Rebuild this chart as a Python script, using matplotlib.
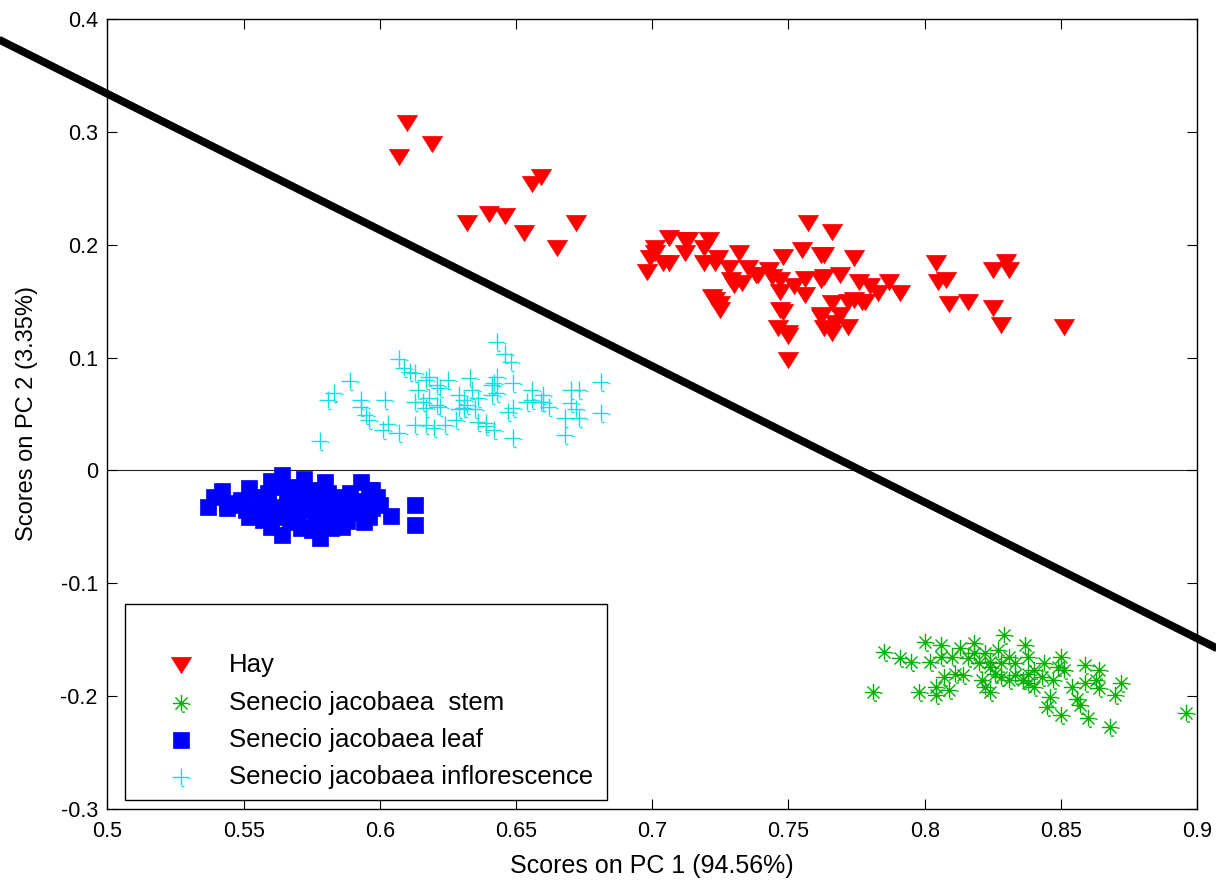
import matplotlib
matplotlib.use("Agg")
import matplotlib.pyplot as plt
from matplotlib.path import Path
from matplotlib.patches import Rectangle
from matplotlib.lines import Line2D

plt.rcParams['font.family'] = ['Liberation Sans', 'DejaVu Sans']

# PCA scores per sample group (PC1, PC2)
hay_x = [0.610, 0.619, 0.607, 0.659, 0.656, 0.640, 0.646, 0.632, 0.653, 0.672, 0.665,
         0.706, 0.712, 0.721, 0.701, 0.712, 0.719, 0.699, 0.704, 0.719, 0.724,
         0.732, 0.698, 0.728, 0.735, 0.743, 0.748, 0.755, 0.762, 0.738, 0.747,
         0.729, 0.733, 0.752, 0.756, 0.756, 0.722, 0.725, 0.725, 0.747, 0.746,
         0.750, 0.750, 0.762, 0.762, 0.763,
         0.701, 0.706, 0.713, 0.723, 0.739, 0.744, 0.757, 0.747, 0.730, 0.723,
         0.748, 0.750, 0.767, 0.774, 0.778, 0.762,
         0.766, 0.763, 0.774, 0.769, 0.763, 0.776, 0.780, 0.787, 0.783, 0.791,
         0.777, 0.766, 0.772, 0.769, 0.772, 0.766,
         0.804, 0.805, 0.808, 0.809, 0.816, 0.825, 0.830, 0.831, 0.825, 0.828, 0.851]
hay_y = [0.308, 0.289, 0.278, 0.260, 0.254, 0.227, 0.225, 0.219, 0.210, 0.219, 0.197,
         0.206, 0.204, 0.204, 0.197, 0.193, 0.197, 0.188, 0.184, 0.184, 0.188,
         0.193, 0.176, 0.179, 0.179, 0.178, 0.189, 0.195, 0.191, 0.173, 0.169,
         0.169, 0.166, 0.163, 0.170, 0.155, 0.154, 0.147, 0.142, 0.142, 0.126,
         0.122, 0.098, 0.169, 0.138, 0.126,
         0.193, 0.184, 0.204, 0.184, 0.173, 0.171, 0.219, 0.158, 0.164, 0.151,
         0.140, 0.119, 0.131, 0.151, 0.149, 0.136,
         0.211, 0.191, 0.188, 0.173, 0.171, 0.167, 0.163, 0.167, 0.157, 0.157,
         0.149, 0.148, 0.149, 0.138, 0.127, 0.122,
         0.184, 0.167, 0.169, 0.147, 0.149, 0.178, 0.185, 0.178, 0.144, 0.129, 0.127]

stem_x = [0.785, 0.791, 0.795, 0.781, 0.800, 0.806, 0.802, 0.798, 0.804, 0.809,
          0.807, 0.813, 0.818, 0.811, 0.814, 0.818, 0.822, 0.824, 0.821, 0.824,
          0.829, 0.831, 0.833, 0.837, 0.838, 0.828, 0.836, 0.840, 0.844, 0.847,
          0.846, 0.845, 0.850, 0.850, 0.851, 0.854, 0.856, 0.857, 0.860, 0.859,
          0.859, 0.864, 0.863, 0.864, 0.872, 0.870, 0.868, 0.896, 0.840, 0.843,
          0.833, 0.826, 0.820, 0.816, 0.806, 0.810, 0.804, 0.822, 0.831, 0.838,
          0.849, 0.838, 0.828, 0.824, 0.827]
stem_y = [-0.161, -0.166, -0.170, -0.196, -0.152, -0.155, -0.170, -0.196, -0.199, -0.195,
          -0.183, -0.157, -0.153, -0.180, -0.181, -0.162, -0.162, -0.174, -0.186, -0.196,
          -0.146, -0.165, -0.171, -0.155, -0.165, -0.183, -0.186, -0.192, -0.171, -0.186,
          -0.201, -0.210, -0.217, -0.165, -0.177, -0.192, -0.203, -0.208, -0.219, -0.172,
          -0.188, -0.177, -0.186, -0.193, -0.188, -0.199, -0.227, -0.215, -0.177, -0.183,
          -0.181, -0.180, -0.171, -0.166, -0.165, -0.165, -0.192, -0.192, -0.186, -0.188,
          -0.174, -0.180, -0.171, -0.170, -0.159]

leaf_x = [0.537, 0.539, 0.542, 0.544, 0.544, 0.552, 0.551, 0.552, 0.560, 0.564,
          0.560, 0.564, 0.567, 0.570, 0.571, 0.577, 0.578, 0.581, 0.581, 0.586,
          0.586, 0.589, 0.593, 0.597, 0.594, 0.599, 0.604, 0.613, 0.613, 0.564,
          0.559, 0.574, 0.578, 0.582, 0.559, 0.564, 0.570, 0.576, 0.567, 0.561,
          0.590, 0.593, 0.597, 0.596, 0.555, 0.549, 0.557, 0.575, 0.582, 0.587, 0.596,
          0.566, 0.572, 0.575, 0.585, 0.579, 0.570, 0.563, 0.556, 0.548, 0.588,
          0.592, 0.600, 0.580, 0.572, 0.568, 0.584, 0.590]
leaf_y = [-0.032, -0.024, -0.018, -0.033, -0.029, -0.016, -0.035, -0.041, -0.009, -0.004,
          -0.050, -0.057, -0.015, -0.017, -0.051, -0.017, -0.060, -0.020, -0.047, -0.032,
          -0.050, -0.020, -0.010, -0.017, -0.046, -0.024, -0.040, -0.031, -0.048, -0.032,
          -0.031, -0.035, -0.035, -0.032, -0.020, -0.015, -0.029, -0.041, -0.046, -0.041,
          -0.035, -0.029, -0.033, -0.041, -0.024, -0.026, -0.044, -0.053, -0.051, -0.041, -0.017,
          -0.025, -0.022, -0.028, -0.024, -0.027, -0.040, -0.040, -0.030, -0.031, -0.045,
          -0.038, -0.031, -0.010, -0.008, -0.034, -0.038, -0.027]

infl_x = [0.607, 0.589, 0.583, 0.581, 0.593, 0.602, 0.578, 0.609, 0.611, 0.613,
          0.617, 0.618, 0.621, 0.622, 0.625, 0.614, 0.618, 0.616, 0.613, 0.617,
          0.621, 0.622, 0.595, 0.593, 0.596, 0.603, 0.601, 0.607, 0.613, 0.617,
          0.620, 0.624, 0.628, 0.629, 0.631, 0.629, 0.631, 0.643, 0.646, 0.648,
          0.633, 0.643, 0.642, 0.641, 0.649, 0.634, 0.641, 0.643, 0.632, 0.631,
          0.635, 0.649, 0.647, 0.656, 0.660, 0.660, 0.659, 0.656, 0.654, 0.662,
          0.636, 0.639, 0.642, 0.649, 0.670, 0.673, 0.681, 0.670, 0.672, 0.668,
          0.673, 0.668, 0.681, 0.639, 0.636]
infl_y = [0.099, 0.079, 0.069, 0.062, 0.062, 0.062, 0.026, 0.091, 0.087, 0.086,
          0.080, 0.083, 0.076, 0.073, 0.080, 0.071, 0.064, 0.061, 0.061, 0.055,
          0.058, 0.056, 0.049, 0.056, 0.045, 0.041, 0.036, 0.033, 0.040, 0.040,
          0.038, 0.040, 0.045, 0.067, 0.062, 0.054, 0.055, 0.114, 0.103, 0.096,
          0.082, 0.083, 0.077, 0.076, 0.077, 0.071, 0.067, 0.069, 0.058, 0.055,
          0.054, 0.055, 0.052, 0.071, 0.067, 0.061, 0.061, 0.062, 0.061, 0.056,
          0.043, 0.042, 0.036, 0.029, 0.071, 0.071, 0.078, 0.060, 0.054, 0.046,
          0.046, 0.031, 0.051, 0.039, 0.064]

# discriminant line (runs past the axes box)
line_x = [0.44, 0.93]
line_y = [0.406, -0.185]

labels = ['Hay', 'Senecio jacobaea  stem', 'Senecio jacobaea leaf',
          'Senecio jacobaea inflorescence']
x_ticks = [0.5, 0.55, 0.6, 0.65, 0.7, 0.75, 0.8, 0.85, 0.9]
y_ticks = [-0.3, -0.2, -0.1, 0, 0.1, 0.2, 0.3, 0.4]

M, L = Path.MOVETO, Path.LINETO

# triangle pointing down, a bit wider than tall
tri = Path([(-1, 0.8), (1, 0.8), (0, -0.8), (-1, 0.8)], [M, L, L, Path.CLOSEPOLY])

# plus / asterisk with the little offset stubs of the exported bitmap
plus = Path([(-1, 0), (0.8, 0), (0, 1), (0, -0.9),
             (0.8, -0.08), (1.05, -0.08), (0.05, -1.0), (0.4, -1.0)],
            [M, L] * 4)
star = Path([(-1, 0), (0.8, 0), (0, 1), (0, -0.9),
             (-0.7, 0.7), (0.7, -0.7), (-0.7, -0.7), (0.7, 0.7),
             (0.8, -0.08), (1.05, -0.08), (0.05, -1.0), (0.4, -1.0)],
            [M, L] * 6)

RED, GREEN, BLUE, CYAN = '#ff0000', '#00b000', '#0000ff', '#10e0e6'

styles = [
    dict(marker=tri, ms=14.5, mfc=RED, mec=RED, mew=0.5),
    dict(marker=star, ms=13, mfc='none', mec=GREEN, mew=1.0),
    dict(marker='s', ms=12, mfc=BLUE, mec=BLUE, mew=0.5),
    dict(marker=plus, ms=13, mfc='none', mec=CYAN, mew=1.0),
]

fig = plt.figure(figsize=(12.16, 8.82), dpi=100)
ax = fig.add_axes([0.0884, 0.0828, 0.896, 0.8957])

groups = [(hay_x, hay_y), (stem_x, stem_y), (leaf_x, leaf_y), (infl_x, infl_y)]
for (gx, gy), st in zip(groups, styles):
    ax.plot(gx, gy, ls='none', **st, zorder=3)

ax.axhline(0, color='#222222', lw=0.8, zorder=1)
ax.plot(line_x, line_y, color='black', lw=5.6, clip_on=False, zorder=4,
        solid_capstyle='butt')

ax.set_xlim(0.5, 0.9)
ax.set_ylim(-0.3, 0.4)
ax.set_xticks(x_ticks)
ax.set_yticks(y_ticks)
ax.set_xticklabels([f'{v:g}' for v in x_ticks])
ax.set_yticklabels([f'{v:g}' for v in y_ticks])
ax.tick_params(direction='in', length=7, width=0.8, top=True, right=True,
               labelsize=15.5)
ax.tick_params(axis='x', pad=9)
ax.tick_params(axis='y', pad=7)
for sp in ax.spines.values():
    sp.set_linewidth(1.0)

ax.set_xlabel('Scores on PC 1 (94.56%)', fontsize=18, labelpad=8)
ax.set_ylabel('Scores on PC 2 (3.35%)', fontsize=17, labelpad=16)

# legend box, drawn by hand in axes fractions
ax.add_patch(Rectangle((0.016, 0.0114), 0.4425, 0.248, transform=ax.transAxes,
                       facecolor='white', edgecolor='black', lw=1.0, zorder=5))
row_y = [0.1823, 0.1342, 0.0873, 0.0405]
for ry, lab, st in zip(row_y, labels, styles):
    ax.add_line(Line2D([0.0675], [ry], transform=ax.transAxes, ls='none',
                       zorder=6, **st))
    ax.text(0.1115, ry, lab, transform=ax.transAxes, fontsize=18.5,
            va='center', ha='left', zorder=6)

fig.savefig('out.png', dpi=100)
